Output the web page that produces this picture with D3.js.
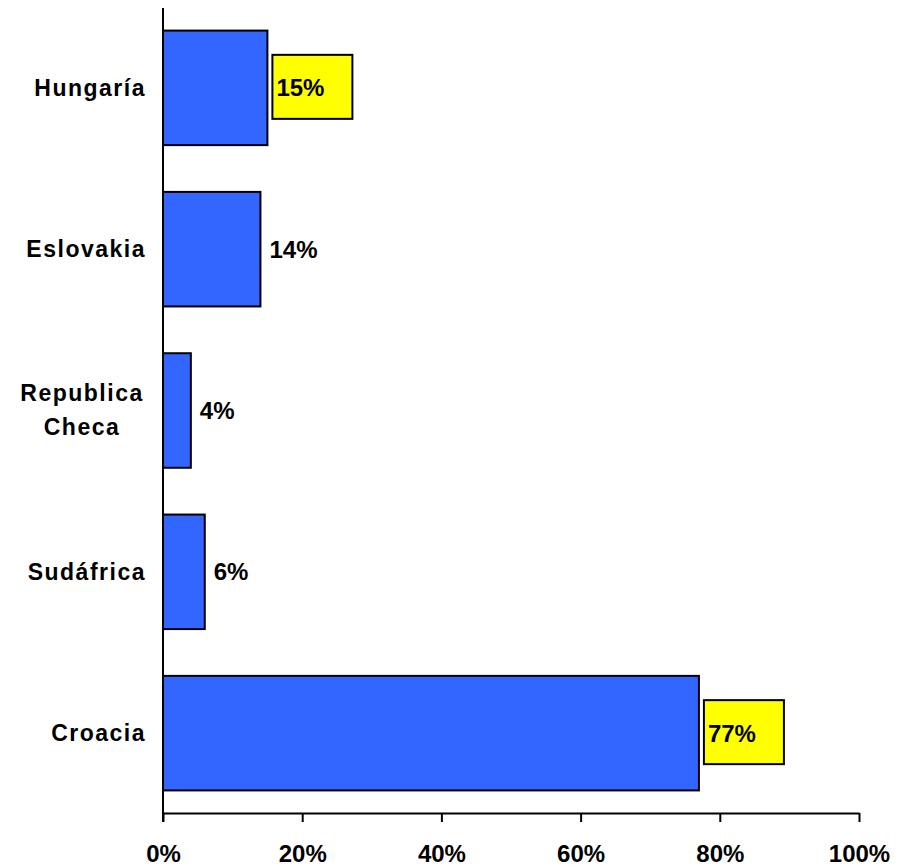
<!DOCTYPE html>
<html>
<head>
<meta charset="utf-8">
<script src="https://cdn.jsdelivr.net/npm/d3@7"></script>
<style>
  body { margin: 0; background: #fff; }
  text { font-family: "Liberation Sans", Arial, sans-serif; font-weight: bold; fill: #000; }
</style>
</head>
<body>
<div id="chart"></div>
<script>
const categories = ['Hungaría', 'Eslovakia', 'Republica Checa', 'Sudáfrica', 'Croacia'];
const values = [0.15, 0.14, 0.04, 0.06, 0.77];
const highlighted = ['Hungaría', 'Croacia'];
const ticks = [0, 0.2, 0.4, 0.6, 0.8, 1.0];

const width = 901, height = 868;
const margin = { top: 8, right: 42, bottom: 55, left: 163 };
const innerW = width - margin.left - margin.right;
const innerH = height - margin.top - margin.bottom;

const svg = d3.select('#chart').append('svg')
    .attr('width', width)
    .attr('height', height);

const g = svg.append('g').attr('transform', `translate(${margin.left},${margin.top})`);

const x = d3.scaleLinear().domain([0, 1]).range([0, innerW]);
const y = d3.scaleBand().domain(categories).range([0, innerH]).paddingInner(0.29).paddingOuter(0.14);

// bars
g.selectAll('rect.bar')
    .data(categories)
    .join('rect')
    .attr('class', 'bar')
    .attr('x', 0)
    .attr('y', d => y(d))
    .attr('width', (d, i) => x(values[i]))
    .attr('height', y.bandwidth())
    .attr('fill', '#3366ff')
    .attr('stroke', '#000')
    .attr('stroke-width', 2);

// yellow boxes for highlighted labels
categories.forEach((c, i) => {
    if (!highlighted.includes(c)) return;
    const cy = y(c) + y.bandwidth() / 2;
    g.append('rect')
        .attr('x', x(values[i]) + 5)
        .attr('y', cy - 33)
        .attr('width', 80)
        .attr('height', 64)
        .attr('fill', '#ffff00')
        .attr('stroke', '#000')
        .attr('stroke-width', 2);
});

// value labels
g.selectAll('text.val')
    .data(categories)
    .join('text')
    .attr('class', 'val')
    .attr('x', (d, i) => x(values[i]) + 9)
    .attr('y', d => y(d) + y.bandwidth() / 2)
    .attr('dy', '0.36em')
    .style('font-size', '24px')
    .text((d, i) => d3.format('.0%')(values[i]));

// x axis
const xAxis = g.append('g')
    .attr('transform', `translate(0,${innerH})`)
    .call(d3.axisBottom(x).tickValues(ticks).tickFormat(d3.format('.0%')).tickSize(9).tickSizeOuter(0).tickPadding(23));
xAxis.select('.domain').attr('stroke', '#000').attr('stroke-width', 2);
xAxis.selectAll('.tick line').attr('stroke', '#000').attr('stroke-width', 2);
xAxis.selectAll('.tick text').style('font-size', '24px').attr('fill', '#000');

// y axis line
g.append('line')
    .attr('x1', 0).attr('x2', 0)
    .attr('y1', 0).attr('y2', innerH + 9)
    .attr('stroke', '#000').attr('stroke-width', 2);

// category labels
categories.forEach(c => {
    const cy = y(c) + y.bandwidth() / 2;
    const words = c === 'Republica Checa' ? ['Republica', 'Checa'] : [c];
    const multi = words.length > 1;
    const t = g.append('text')
        .attr('text-anchor', multi ? 'middle' : 'end')
        .attr('y', cy)
        .style('font-size', '23px')
        .style('letter-spacing', '1.5px');
    words.forEach((w, k) => {
        t.append('tspan')
            .attr('x', multi ? -81 : -17)
            .attr('dy', k === 0 ? (multi ? '-0.42em' : '0.36em') : '1.5em')
            .text(w);
    });
});
</script>
</body>
</html>
